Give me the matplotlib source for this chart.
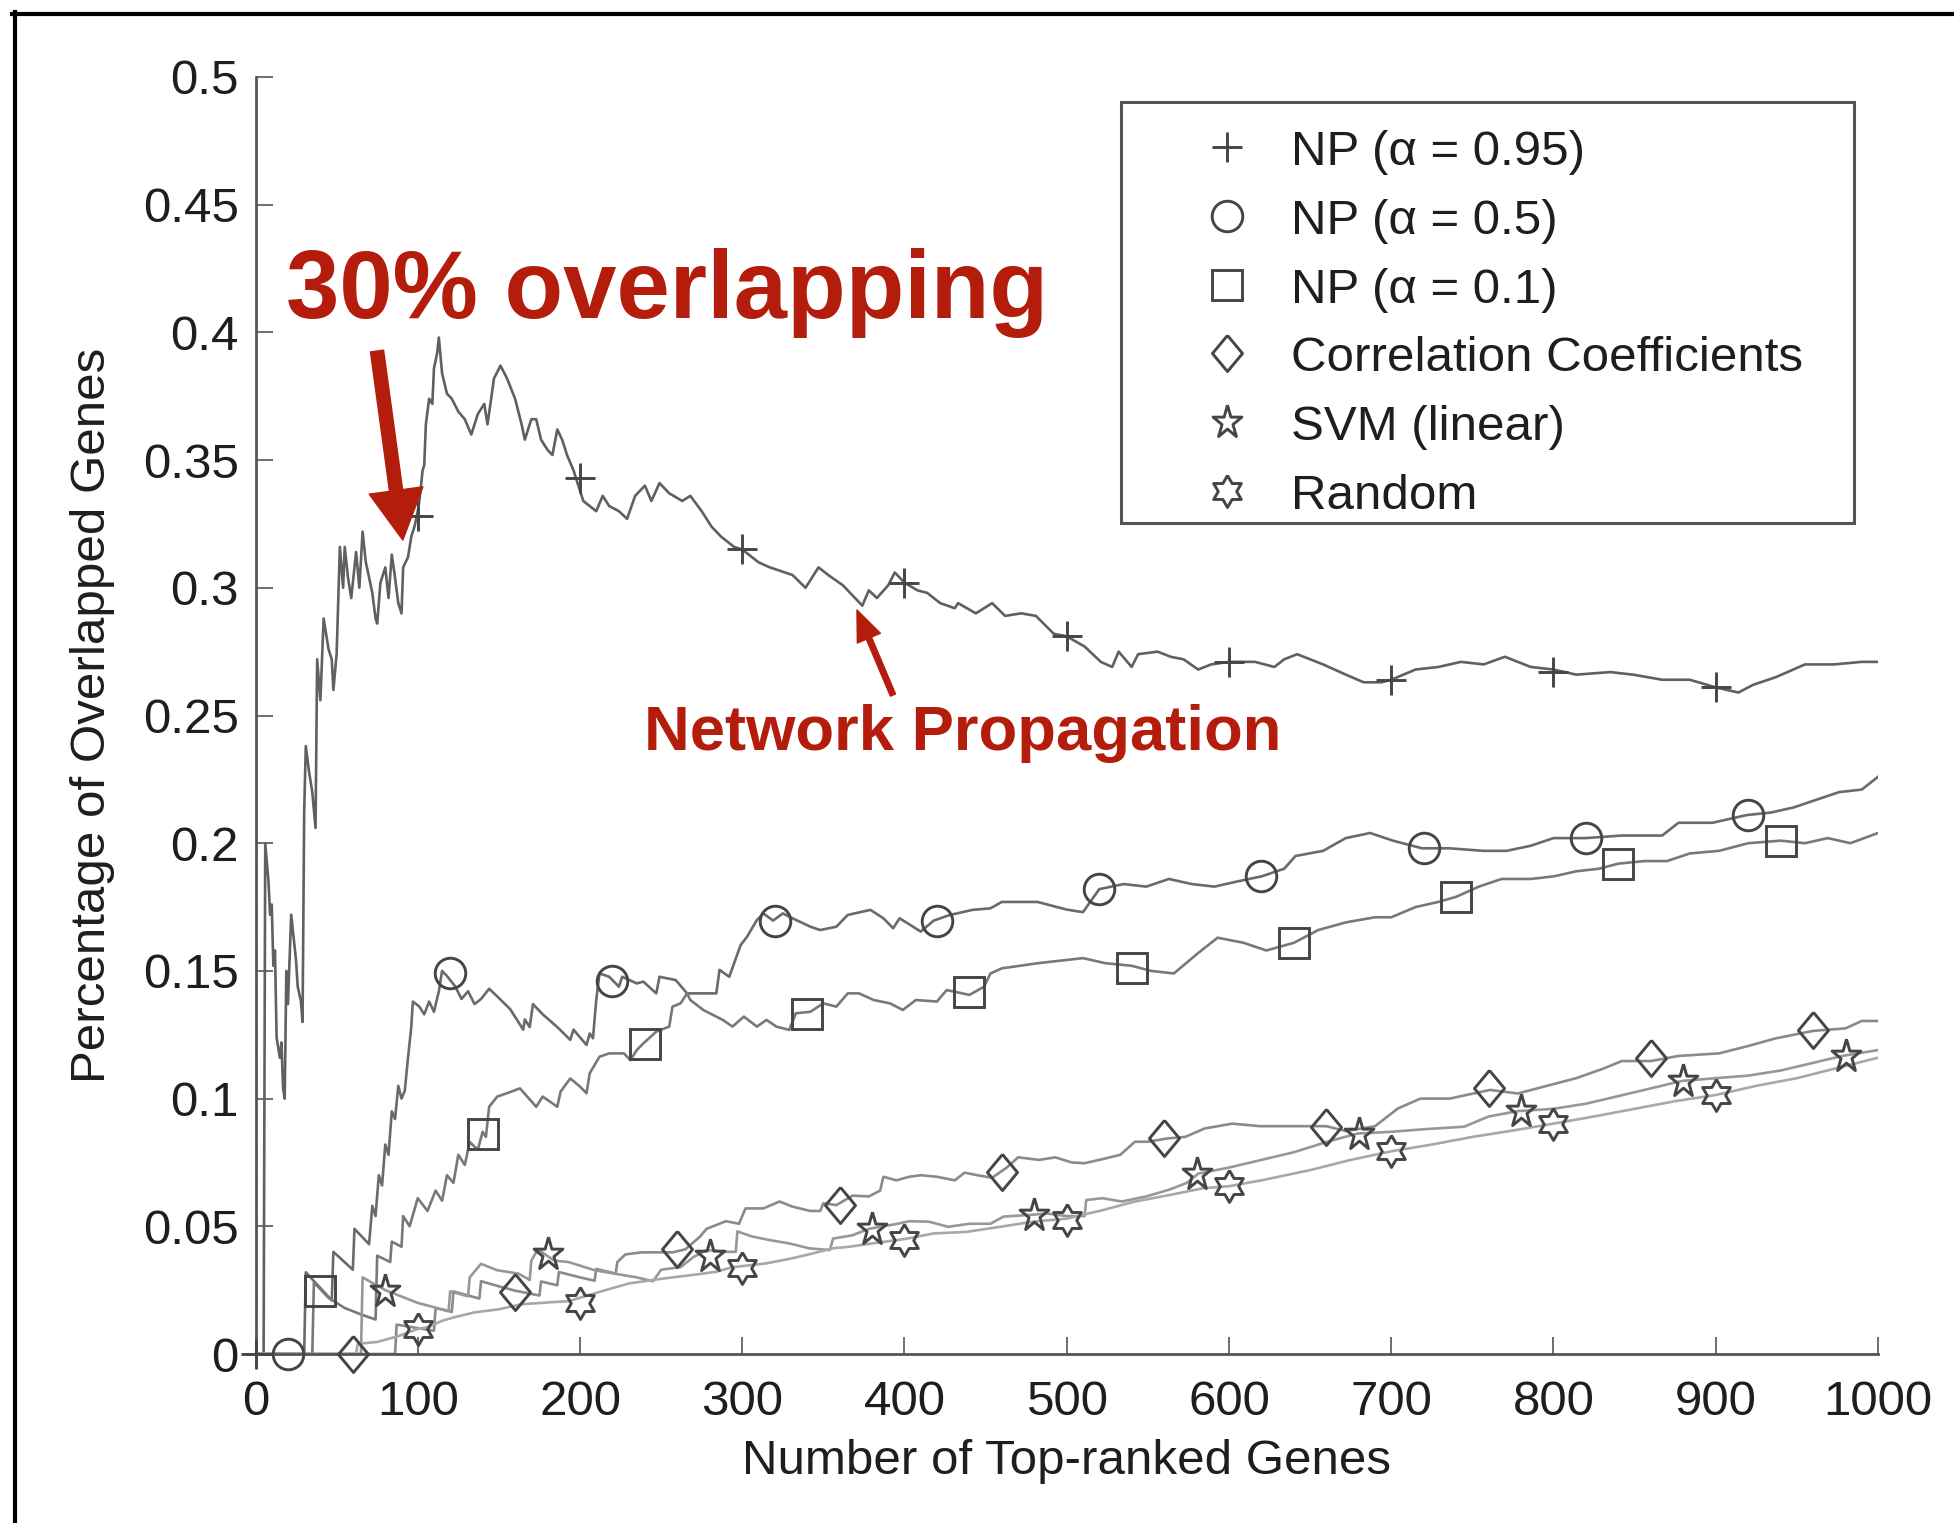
import numpy as np
import matplotlib
matplotlib.use("Agg")
import matplotlib.pyplot as plt
from matplotlib.lines import Line2D
from matplotlib.patches import Rectangle
from matplotlib.ticker import FuncFormatter

# ---------------------------------------------------------------
# data (gene count, fraction overlapped)
# ---------------------------------------------------------------
np95_x = [0, 5, 6, 8, 9, 10, 11, 12, 13, 15, 16, 17, 18, 19, 20, 22, 23, 25, 26, 28, 29, 30, 31, 33, 35, 37, 38, 40,
          42, 45, 47, 48, 50, 52, 54, 55, 57, 59, 62, 64, 66, 68, 70, 72, 74, 75, 77, 80, 82, 84, 86, 88, 90, 91,
          94, 96, 98, 100, 101, 103, 104, 105, 107, 109, 110, 112, 113, 115, 118, 121, 125, 129, 133, 137, 141,
          143, 147, 151, 155, 160, 164, 166, 170, 173, 176, 180, 183, 186, 189, 192, 196, 198, 202, 206, 210, 214,
          218, 224, 229, 234, 240, 244, 249, 255, 263, 268, 275, 281, 287, 295, 300, 310, 317, 331, 339, 347, 353,
          362, 374, 378, 383, 390, 394, 400, 408, 414, 422, 431, 433, 444, 454, 462, 472, 481, 492, 500, 511, 521,
          528, 532, 540, 544, 556, 564, 572, 581, 589, 600, 616, 628, 634, 642, 658, 672, 683, 694, 700, 715, 729,
          743, 757, 770, 786, 800, 814, 835, 849, 867, 884, 900, 914, 923, 937, 955, 973, 990, 1000]
np95_y = [0, 0, 0.2, 0.185, 0.172, 0.176, 0.152, 0.158, 0.124, 0.116, 0.122, 0.104, 0.1, 0.15, 0.137, 0.172, 0.166,
          0.154, 0.144, 0.138, 0.13, 0.212, 0.238, 0.228, 0.22, 0.206, 0.272, 0.256, 0.288, 0.276, 0.272, 0.26,
          0.274, 0.316, 0.3, 0.316, 0.304, 0.296, 0.314, 0.3, 0.322, 0.31, 0.304, 0.298, 0.288, 0.286, 0.302, 0.308,
          0.296, 0.313, 0.304, 0.294, 0.29, 0.308, 0.312, 0.32, 0.324, 0.33, 0.334, 0.346, 0.348, 0.364, 0.374,
          0.372, 0.386, 0.392, 0.398, 0.384, 0.376, 0.374, 0.369, 0.366, 0.36, 0.368, 0.372, 0.364, 0.382, 0.387,
          0.382, 0.374, 0.364, 0.358, 0.366, 0.366, 0.358, 0.354, 0.352, 0.362, 0.358, 0.352, 0.346, 0.342, 0.334,
          0.332, 0.33, 0.336, 0.332, 0.33, 0.327, 0.336, 0.34, 0.334, 0.341, 0.337, 0.334, 0.336, 0.33, 0.324,
          0.32, 0.316, 0.315, 0.31, 0.308, 0.305, 0.3, 0.308, 0.305, 0.301, 0.293, 0.299, 0.296, 0.301, 0.306,
          0.302, 0.299, 0.298, 0.294, 0.292, 0.294, 0.29, 0.294, 0.289, 0.29, 0.289, 0.282, 0.281, 0.277, 0.271,
          0.269, 0.275, 0.269, 0.274, 0.275, 0.273, 0.272, 0.268, 0.27, 0.271, 0.271, 0.269, 0.272, 0.274, 0.27,
          0.266, 0.263, 0.263, 0.264, 0.268, 0.269, 0.271, 0.27, 0.273, 0.269, 0.268, 0.266, 0.267, 0.266, 0.264,
          0.264, 0.261, 0.259, 0.262, 0.265, 0.27, 0.27, 0.271, 0.271]

np50_x = [0, 30, 31, 47, 48, 60, 61, 70, 72, 74, 76, 78, 80, 82, 84, 86, 88, 90, 92, 94, 96, 97, 101, 104, 107,
          110, 113, 115, 118, 123, 127, 131, 135, 139, 144, 149, 157, 165, 166, 169, 171, 177, 186, 194, 196, 204,
          206, 208, 210, 212, 218, 224, 226, 235, 239, 247, 249, 259, 266, 276, 284, 286, 292, 299, 303, 309, 313,
          319, 325, 331, 342, 348, 358, 365, 379, 387, 393, 397, 410, 418, 428, 442, 453, 460, 482, 500, 510, 520,
          535, 549, 563, 577, 591, 605, 620, 634, 641, 658, 672, 687, 701, 719, 736, 757, 771, 786, 800, 820, 842,
          867, 877, 898, 919, 934, 948, 962, 976, 990, 1000]
np50_y = [0, 0, 0.032, 0.021, 0.04, 0.033, 0.049, 0.043, 0.058, 0.054, 0.07, 0.066, 0.082, 0.078, 0.095, 0.092,
          0.105, 0.1, 0.103, 0.116, 0.128, 0.138, 0.136, 0.133, 0.138, 0.134, 0.142, 0.15, 0.148, 0.144, 0.139,
          0.142, 0.137, 0.139, 0.143, 0.14, 0.135, 0.127, 0.131, 0.128, 0.137, 0.133, 0.128, 0.123, 0.127, 0.121,
          0.1255, 0.1236, 0.1386, 0.149, 0.1477, 0.1438, 0.1477, 0.1451, 0.1458, 0.1412, 0.1477, 0.1464, 0.1412,
          0.1412, 0.1412, 0.1504, 0.1477, 0.1601, 0.1634, 0.1699, 0.1725, 0.1697, 0.1725, 0.1706, 0.1673, 0.166,
          0.1673, 0.1719, 0.1739, 0.1706, 0.1667, 0.1706, 0.1654, 0.1697, 0.1719, 0.1739, 0.1745, 0.177, 0.177,
          0.174, 0.173, 0.182, 0.184, 0.183, 0.186, 0.184, 0.183, 0.185, 0.187, 0.19, 0.195, 0.197, 0.202, 0.204,
          0.201, 0.198, 0.198, 0.197, 0.197, 0.199, 0.202, 0.202, 0.203, 0.203, 0.208, 0.208, 0.211, 0.212, 0.214,
          0.217, 0.22, 0.221, 0.226]

np10_x = [0, 35, 36, 45, 55, 65, 74, 75, 83, 84, 90, 91, 95, 100, 106, 111, 115, 118, 122, 125, 129, 132, 137,
          140, 142, 144, 149, 155, 163, 173, 177, 186, 188, 194, 200, 204, 206, 212, 218, 227, 231, 235, 239, 247,
          255, 257, 262, 266, 268, 276, 288, 294, 301, 309, 315, 321, 329, 333, 342, 350, 358, 365, 372, 381, 391,
          399, 407, 420, 426, 440, 449, 453, 460, 482, 510, 524, 540, 552, 566, 581, 593, 609, 623, 640, 655, 672,
          690, 700, 715, 729, 740, 754, 768, 786, 800, 814, 828, 840, 856, 870, 884, 902, 920, 940, 955, 969, 983,
          1000]
np10_y = [0, 0, 0.028, 0.022, 0.018, 0.0155, 0.0135, 0.0385, 0.036, 0.044, 0.042, 0.054, 0.05, 0.061, 0.056,
          0.064, 0.06, 0.07, 0.067, 0.078, 0.074, 0.083, 0.08, 0.087, 0.085, 0.0968, 0.1008, 0.1021, 0.104, 0.0968,
          0.1008, 0.0968, 0.1027, 0.1079, 0.1047, 0.1021, 0.1099, 0.1164, 0.1177, 0.1177, 0.1151, 0.119, 0.1216,
          0.1262, 0.1282, 0.136, 0.1373, 0.1412, 0.1386, 0.1347, 0.1308, 0.1282, 0.1321, 0.1282, 0.1308, 0.1282,
          0.1269, 0.1334, 0.134, 0.1373, 0.136, 0.1412, 0.1412, 0.1386, 0.1373, 0.1347, 0.1386, 0.138, 0.1425,
          0.1406, 0.1438, 0.149, 0.151, 0.153, 0.155, 0.153, 0.152, 0.15, 0.149, 0.157, 0.163, 0.161, 0.158, 0.161,
          0.166, 0.169, 0.171, 0.171, 0.175, 0.177, 0.179, 0.183, 0.186, 0.186, 0.187, 0.189, 0.19, 0.192, 0.193,
          0.193, 0.196, 0.197, 0.2, 0.201, 0.2, 0.202, 0.2, 0.204]

corr_x = [0, 86, 87, 110, 111, 121, 122, 138, 139, 150, 160, 175, 176, 186, 187, 200, 209, 210, 222, 223, 228,
          238, 257, 265, 274, 278, 290, 298, 302, 313, 323, 331, 342, 348, 350, 358, 368, 378, 385, 387, 395, 403,
          410, 420, 431, 437, 445, 454, 463, 470, 483, 493, 503, 511, 524, 533, 542, 550, 562, 573, 585, 602, 619,
          637, 660, 672, 690, 704, 718, 736, 761, 778, 796, 814, 831, 842, 860, 877, 902, 920, 937, 960, 980, 990,
          1000]
corr_y = [0, 0, 0.0115, 0.0091, 0.018, 0.0165, 0.0245, 0.0217, 0.0285, 0.0265, 0.0248, 0.0229, 0.0284, 0.0269,
          0.0321, 0.03, 0.0287, 0.0333, 0.0315, 0.036, 0.039, 0.0398, 0.0398, 0.041, 0.046, 0.049, 0.052, 0.051,
          0.057, 0.057, 0.0597, 0.0577, 0.056, 0.056, 0.059, 0.0583, 0.062, 0.0617, 0.064, 0.0694, 0.068, 0.0694,
          0.07, 0.0694, 0.068, 0.071, 0.07, 0.069, 0.073, 0.077, 0.076, 0.077, 0.075, 0.0747, 0.0766, 0.078, 0.0831,
          0.0831, 0.0844, 0.085, 0.0883, 0.0902, 0.0892, 0.0892, 0.0892, 0.0873, 0.0892, 0.0961, 0.1, 0.1, 0.1034,
          0.102, 0.105, 0.108, 0.1118, 0.1147, 0.1147, 0.1167, 0.1177, 0.1206, 0.1236, 0.1265, 0.1275, 0.1304,
          0.1304]

svm_x = [0, 65, 66, 80, 100, 112, 119, 120, 131, 132, 139, 149, 162, 169, 170, 174, 184, 193, 209, 221, 235, 245,
         250, 262, 270, 278, 290, 296, 297, 306, 317, 329, 341, 354, 356, 368, 378, 395, 403, 415, 427, 440, 453,
         461, 478, 488, 500, 511, 512, 522, 534, 549, 563, 574, 581, 600, 620, 640, 660, 679, 700, 720, 745, 760,
         778, 800, 820, 840, 860, 879, 900, 920, 940, 960, 978, 1000]
svm_y = [0, 0, 0.03, 0.025, 0.02, 0.018, 0.0168, 0.0245, 0.0226, 0.03, 0.0353, 0.0328, 0.0315, 0.029, 0.0366,
         0.041, 0.0366, 0.036, 0.0328, 0.0315, 0.03, 0.0285, 0.033, 0.034, 0.038, 0.0407, 0.04, 0.04, 0.048, 0.046,
         0.0446, 0.0433, 0.0414, 0.0407, 0.0452, 0.0465, 0.049, 0.0509, 0.052, 0.0518, 0.0498, 0.051, 0.051,
         0.0538, 0.0545, 0.055, 0.054, 0.054, 0.0603, 0.061, 0.0597, 0.0617, 0.0643, 0.067, 0.0706, 0.073, 0.076,
         0.079, 0.083, 0.0863, 0.087, 0.088, 0.089, 0.093, 0.0951, 0.096, 0.098, 0.101, 0.104, 0.1069, 0.108,
         0.109, 0.111, 0.114, 0.1167, 0.119]

rand_x = [0, 62, 63, 75, 88, 100, 106, 115, 122, 135, 150, 164, 176, 193, 203, 213, 230, 245, 257, 270, 284, 294,
          315, 331, 341, 356, 366, 380, 400, 418, 438, 459, 479, 500, 522, 542, 563, 584, 600, 620, 650, 675, 701,
          725, 750, 775, 800, 825, 850, 875, 900, 925, 950, 975, 1000]
rand_y = [0, 0, 0.004, 0.0047, 0.007, 0.0098, 0.0105, 0.013, 0.0143, 0.0163, 0.0175, 0.0195, 0.02, 0.0207, 0.0226,
          0.0245, 0.0276, 0.029, 0.03, 0.031, 0.0322, 0.034, 0.0355, 0.0375, 0.039, 0.0414, 0.042, 0.0433, 0.045,
          0.0472, 0.0478, 0.0498, 0.0518, 0.053, 0.0563, 0.0597, 0.0622, 0.0649, 0.0657, 0.068, 0.072, 0.076,
          0.0795, 0.082, 0.085, 0.0875, 0.0902, 0.093, 0.096, 0.099, 0.1014, 0.105, 0.108, 0.112, 0.116]

# marker positions (every 100 genes, staggered by 20)
np95_mx = [0, 100, 200, 300, 400, 500, 600, 700, 800, 900]
np95_my = [0, 0.328, 0.343, 0.315, 0.302, 0.281, 0.271, 0.264, 0.267, 0.261]
np50_mx = [20, 120, 220, 320, 420, 520, 620, 720, 820, 920]
np50_my = [0, 0.149, 0.146, 0.1697, 0.1697, 0.182, 0.187, 0.198, 0.202, 0.211]
np10_mx = [40, 140, 240, 340, 440, 540, 640, 740, 840, 940]
np10_my = [0.0245, 0.086, 0.1212, 0.1331, 0.1418, 0.151, 0.161, 0.179, 0.192, 0.201]
corr_mx = [60, 160, 260, 360, 460, 560, 660, 760, 860, 960]
corr_my = [0, 0.0242, 0.0413, 0.0583, 0.0714, 0.0844, 0.089, 0.104, 0.116, 0.127]
svm_mx = [80, 180, 280, 380, 480, 580, 680, 780, 880, 980]
svm_my = [0.0245, 0.039, 0.0385, 0.049, 0.0545, 0.0706, 0.0863, 0.0951, 0.1069, 0.1167]
rand_mx = [100, 200, 300, 400, 500, 600, 700, 800, 900]
rand_my = [0.0098, 0.02, 0.0335, 0.0446, 0.0525, 0.0657, 0.0795, 0.0902, 0.1014]

labels = ["NP (\u03b1 = 0.95)", "NP (\u03b1 = 0.5)", "NP (\u03b1 = 0.1)",
          "Correlation Coefficients", "SVM (linear)", "Random"]

# ---------------------------------------------------------------
# marker shapes (MATLAB-like outlines)
# ---------------------------------------------------------------
diamond = [(0, 18), (15, 0), (0, -18), (-15, 0), (0, 18)]


def star_verts(n, inner, ystretch=1.0):
    pts = []
    for k in range(2 * n):
        r = 1.0 if k % 2 == 0 else inner
        a = np.pi / 2 + k * np.pi / n
        pts.append((r * np.cos(a), r * np.sin(a) * ystretch))
    pts.append(pts[0])
    return pts


pentagram = star_verts(5, 0.382, 1.15)
hexagram = star_verts(6, 0.577)

W, H = 1954, 1523
FS = 35.5
FONT = "Liberation Sans"
RED = "#b41c0c"
AX_COL = "#555555"
MK_COL = "#454545"

plt.rcParams["font.family"] = [FONT, "DejaVu Sans"]

fig = plt.figure(figsize=(W / 100, H / 100), dpi=100)
ax = fig.add_axes([255.5 / W, 1 - 1354 / H, (1878 - 255.5) / W, 1277 / H])

series = [
    (np95_x, np95_y, np95_mx, np95_my, "#606060", "+", 21),
    (np50_x, np50_y, np50_mx, np50_my, "#6a6a6a", "o", 22),
    (np10_x, np10_y, np10_mx, np10_my, "#787878", "s", 21.5),
    (corr_x, corr_y, corr_mx, corr_my, "#8a8a8a", diamond, 26),
    (svm_x, svm_y, svm_mx, svm_my, "#979797", pentagram, 25),
    (rand_x, rand_y, rand_mx, rand_my, "#a8a8a8", hexagram, 23),
]

handles = []
for i, (x, y, mx, my, col, mk, ms) in enumerate(series):
    ax.plot(x, y, color=col, lw=1.9, zorder=2 + i * 0.1)
    ax.plot(mx, my, ls="none", marker=mk, ms=ms, mec=MK_COL, mfc="none",
            mew=2.1, zorder=4, clip_on=False)
    handles.append((mk, ms))

ax.set_xlim(0, 1000)
ax.set_ylim(0, 0.5)
ax.set_xticks(np.arange(0, 1001, 100))
ax.set_yticks(np.arange(0, 0.501, 0.05))
ax.yaxis.set_major_formatter(FuncFormatter(lambda v, p: "%g" % round(v, 3)))

for s in ("top", "right"):
    ax.spines[s].set_visible(False)
for s in ("left", "bottom"):
    ax.spines[s].set_color(AX_COL)
    ax.spines[s].set_linewidth(2.0)

ax.tick_params(axis="both", direction="in", length=12, width=1.2, color=AX_COL,
               labelsize=FS, labelcolor="#1e1e1e")
ax.tick_params(axis="y", pad=12)
ax.tick_params(axis="x", pad=19)

ax.set_xlabel("Number of Top-ranked Genes", fontsize=FS, color="#1e1e1e")
ax.set_ylabel("Percentage of Overlapped Genes", fontsize=FS, color="#1e1e1e")
ax.xaxis.set_label_coords(0.5, -0.0665)
ax.yaxis.set_label_coords(-0.0866, 0.5)

# ---------------------------------------------------------------
# red annotations
# ---------------------------------------------------------------
ax.text(253.6, 0.4057, "30% overlapping", color=RED, fontsize=69, fontweight="bold",
        ha="center", va="baseline", zorder=6)
ax.annotate("", xy=(90.8, 0.3187), xytext=(74.9, 0.3927),
            arrowprops=dict(arrowstyle="simple,head_length=3.6,head_width=3.9,tail_width=0.95",
                            color=RED, shrinkA=0, shrinkB=0, mutation_scale=10), zorder=6)
ax.text(435.8, 0.2365, "Network Propagation", color=RED, fontsize=45.6, fontweight="bold",
        ha="center", va="baseline", zorder=6)
ax.annotate("", xy=(370.7, 0.2913), xytext=(392.9, 0.258),
            arrowprops=dict(arrowstyle="simple,head_length=2.2,head_width=1.8,tail_width=0.4",
                            color=RED, shrinkA=0, shrinkB=0, mutation_scale=10), zorder=6)

# ---------------------------------------------------------------
# legend box drawn in figure pixels
# ---------------------------------------------------------------
def fx(px):
    return px / W


def fy(py):
    return 1 - py / H


fig.patches.append(Rectangle((fx(1121), fy(523)), fx(1854) - fx(1121), fy(102) - fy(523),
                             transform=fig.transFigure, facecolor="white",
                             edgecolor=AX_COL, lw=2.2, zorder=5))
row0, step = 147, 68.8
for k, (lab, (mk, ms)) in enumerate(zip(labels, handles)):
    yc = row0 + k * step
    fig.add_artist(Line2D([fx(1227)], [fy(yc)], ls="none", marker=mk, ms=ms,
                          mec=MK_COL, mfc="none", mew=2.1, transform=fig.transFigure, zorder=6))
    fig.text(fx(1291), fy(yc + 18), lab, fontsize=FS, color="#1e1e1e",
             ha="left", va="baseline", zorder=6)

# outer frame (top and left edges only, as in the screenshot)
fig.add_artist(Line2D([fx(12), 1], [fy(14), fy(14)], transform=fig.transFigure, color="black", lw=3))
fig.add_artist(Line2D([fx(14.5), fx(14.5)], [0, fy(12)], transform=fig.transFigure, color="black", lw=3))

fig.savefig("out.png", dpi=100)
